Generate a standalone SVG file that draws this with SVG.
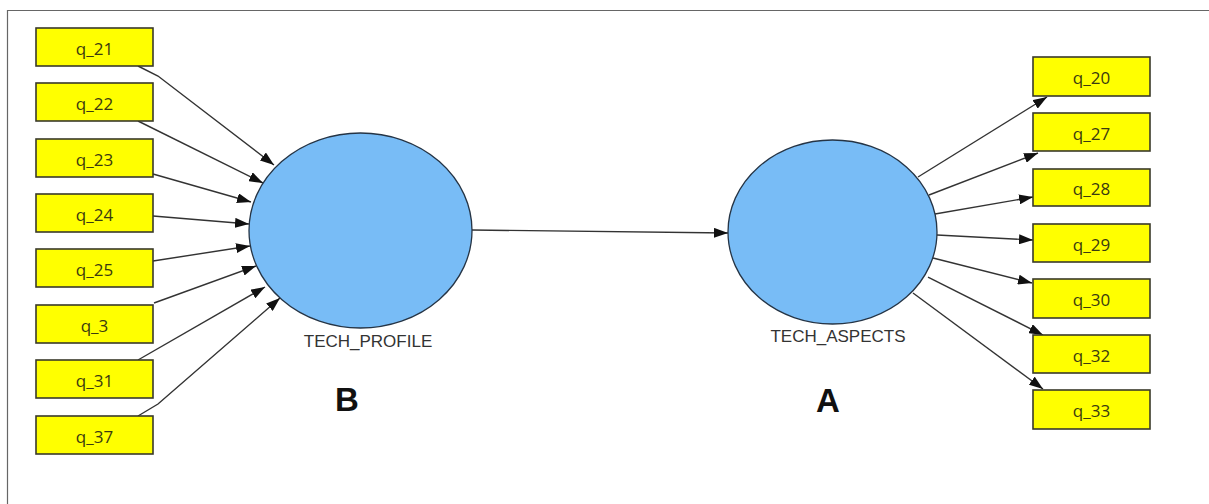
<svg xmlns="http://www.w3.org/2000/svg" width="1209" height="504" viewBox="0 0 1209 504">
  <defs>
    <marker id="arrow" viewBox="0 0 14 10" refX="14" refY="5" markerWidth="14" markerHeight="10" markerUnits="userSpaceOnUse" orient="auto">
      <path d="M0,0 L14,5 L0,10 z" fill="#111"/>
    </marker>
    <style>
      .ind rect { fill: #ffff00; stroke: #3a3a2a; stroke-width: 1.6; }
      .ind text { font-family: "Open Sans", "DejaVu Sans", sans-serif; font-size: 17px; fill: #3a3a10; text-anchor: middle; }
      .lv ellipse { fill: #78bcf6; stroke: #253445; stroke-width: 1.3; }
      .lvname { font-family: "Liberation Sans", Arial, sans-serif; font-size: 17px; fill: #333; text-anchor: middle; }
      .tag { font-family: "Liberation Sans", Arial, sans-serif; font-size: 33px; font-weight: bold; fill: #111; text-anchor: middle; }
      #connectors line, #connectors polyline { stroke: #333; stroke-width: 1.4; fill: none; marker-end: url(#arrow); }
    </style>
  </defs>

  <rect width="1209" height="504" fill="#ffffff"/>
  <!-- canvas frame: top and left edges only -->
  <path d="M7.5,504 V10.5 H1209" fill="none" stroke="#666" stroke-width="1.2"/>

  <!-- connectors -->
  <g id="connectors">
    <polyline points="138,66 158,76 274,165"/>
    <line x1="138" y1="121" x2="263" y2="183"/>
    <line x1="153" y1="174" x2="251" y2="202"/>
    <line x1="153" y1="216" x2="249" y2="224"/>
    <line x1="153" y1="261" x2="250" y2="246"/>
    <line x1="154" y1="303" x2="256" y2="266"/>
    <line x1="138" y1="360" x2="265" y2="287"/>
    <polyline points="138,416 158,404 280,298"/>
    <line x1="472" y1="230" x2="728" y2="233"/>
    <line x1="918" y1="177" x2="1047" y2="97"/>
    <line x1="929" y1="195" x2="1038" y2="153"/>
    <line x1="935" y1="214" x2="1033" y2="197"/>
    <line x1="937" y1="235" x2="1033" y2="240"/>
    <line x1="933" y1="258" x2="1032" y2="283"/>
    <line x1="928" y1="277" x2="1043" y2="335"/>
    <line x1="913" y1="293" x2="1043" y2="389"/>
  </g>

  <!-- indicators of TECH_PROFILE -->
  <g id="q_21" class="ind"><rect x="36" y="28" width="117" height="38"/><text x="94.5" y="55">q_21</text></g>
  <g id="q_22" class="ind"><rect x="36" y="83" width="117" height="38"/><text x="94.5" y="110">q_22</text></g>
  <g id="q_23" class="ind"><rect x="36" y="139" width="117" height="38"/><text x="94.5" y="166">q_23</text></g>
  <g id="q_24" class="ind"><rect x="36" y="194" width="117" height="38"/><text x="94.5" y="221">q_24</text></g>
  <g id="q_25" class="ind"><rect x="36" y="249" width="117" height="38"/><text x="94.5" y="276">q_25</text></g>
  <g id="q_3" class="ind"><rect x="36" y="305" width="117" height="38"/><text x="94.5" y="332">q_3</text></g>
  <g id="q_31" class="ind"><rect x="36" y="360" width="117" height="38"/><text x="94.5" y="387">q_31</text></g>
  <g id="q_37" class="ind"><rect x="36" y="416" width="117" height="38"/><text x="94.5" y="443">q_37</text></g>

  <!-- latent variables -->
  <g id="TECH_PROFILE" class="lv">
    <ellipse cx="360.5" cy="230.5" rx="111.5" ry="97.5"/>
    <text class="lvname" x="368" y="347">TECH_PROFILE</text>
    <text class="tag" x="347" y="411">B</text>
  </g>
  <g id="TECH_ASPECTS" class="lv">
    <ellipse cx="832.5" cy="232" rx="104.5" ry="92"/>
    <text class="lvname" x="838" y="342">TECH_ASPECTS</text>
    <text class="tag" x="828" y="412">A</text>
  </g>

  <!-- indicators of TECH_ASPECTS -->
  <g id="q_20" class="ind"><rect x="1033" y="57" width="117" height="39"/><text x="1091.5" y="84">q_20</text></g>
  <g id="q_27" class="ind"><rect x="1033" y="113" width="117" height="38"/><text x="1091.5" y="140">q_27</text></g>
  <g id="q_28" class="ind"><rect x="1033" y="169" width="117" height="37"/><text x="1091.5" y="195">q_28</text></g>
  <g id="q_29" class="ind"><rect x="1033" y="224" width="117" height="38"/><text x="1091.5" y="251">q_29</text></g>
  <g id="q_30" class="ind"><rect x="1033" y="279" width="117" height="39"/><text x="1091.5" y="306">q_30</text></g>
  <g id="q_32" class="ind"><rect x="1033" y="335" width="117" height="38"/><text x="1091.5" y="362">q_32</text></g>
  <g id="q_33" class="ind"><rect x="1033" y="390" width="117" height="39"/><text x="1091.5" y="417">q_33</text></g>
</svg>
